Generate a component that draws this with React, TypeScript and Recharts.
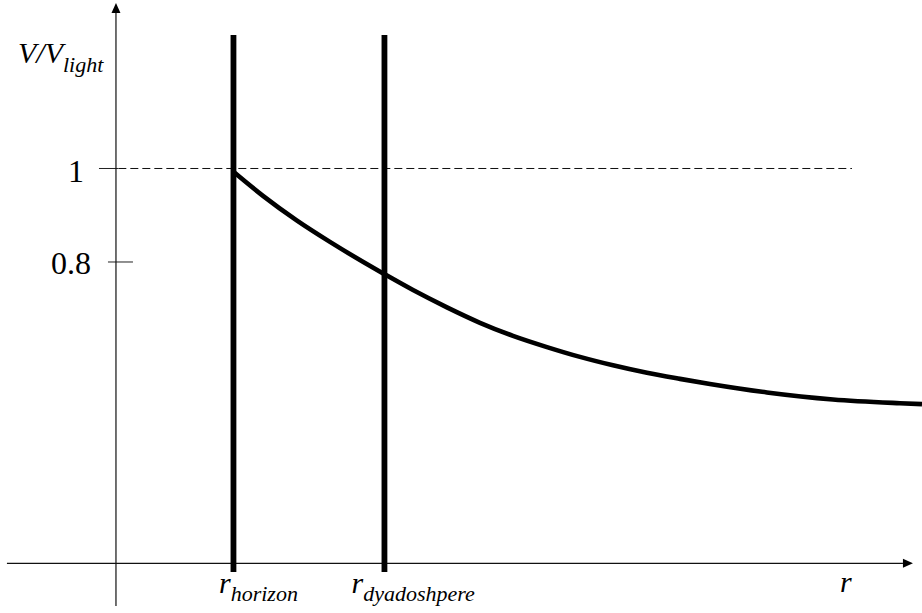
import React from 'react';
import { ComposedChart, Line, XAxis, YAxis, ReferenceLine } from 'recharts';

// Curve: normalized speed V/V_light vs radius r (r_horizon = 1)
const radius = [1.0, 1.254, 1.538, 1.821, 2.105, 2.285, 2.528, 2.817, 3.098, 3.379, 3.668, 3.949, 4.23, 4.519, 4.8, 5.055, 5.54, 6.102, 6.672, 6.86];
const speed = [0.993, 0.941, 0.889, 0.843, 0.8, 0.774, 0.74, 0.703, 0.67, 0.642, 0.618, 0.597, 0.579, 0.563, 0.55, 0.539, 0.521, 0.506, 0.498, 0.496];

// Special radii and their subscripts
const markRadii = [1, 2.285];
const markNames = ['horizon', 'dyadoshpere'];

// Y ticks
const yTickValues = [1, 0.8];
const yTickLabels = ['1', '0.8'];

// Axis extents (data units)
const X_DOMAIN: [number, number] = [-0.987, 6.86];
const Y_DOMAIN: [number, number] = [0.0492, 1.3604];
const AXIS_Y = 0.1555;
const X_AXIS_START = -0.928;
const X_AXIS_END = 6.783;
const Y_AXIS_BOTTOM = 0.064;
const Y_AXIS_TOP = 1.354;
const MARK_TOP = 1.2856;
const MARK_BOTTOM = 0.137;
const DASH_START = 0.02;
const DASH_END = 6.264;

const data = radius.map((r, i) => ({ r, v: speed[i] }));

const FONT = '"Liberation Serif", "Times New Roman", Tinos, serif';

const labelOffsets = [-14.5, -33];
const tickLabelDx = [-40, -45];
const tickLabelDy = [13.5, 12];
const tickSpan: [number, number][] = [[-17, 2], [-8, 17]];

const textStyle = (size: number, italic: boolean) => ({
  fontFamily: FONT,
  fontSize: size,
  fontStyle: italic ? 'italic' : 'normal',
});

const ArrowAxis = (p: any, kind: 'x' | 'y') => {
  const { x1, y1, x2, y2 } = p;
  const dx = x2 - x1;
  const dy = y2 - y1;
  const len = Math.sqrt(dx * dx + dy * dy) || 1;
  const ux = dx / len;
  const uy = dy / len;
  const L = 10;
  const W = 4.5;
  const bx = x2 - ux * L;
  const by = y2 - uy * L;
  const pts = `${x2},${y2} ${bx - uy * W},${by + ux * W} ${bx + uy * W},${by - ux * W}`;
  return (
    <g>
      <line x1={x1} y1={y1} x2={bx} y2={by} stroke="#111" strokeWidth={1.2} />
      <polygon points={pts} fill="#000" />
      {kind === 'y' ? (
        <text x={x1 - 98} y={y2 + 60} style={textStyle(30, true)} fill="#000">
          V/V
          <tspan style={{ fontSize: 22 }} dy={9}>light</tspan>
        </text>
      ) : (
        <text x={x2 - 73} y={y1 + 29} style={textStyle(30, true)} fill="#000">
          r
        </text>
      )}
    </g>
  );
};

const MarkLine = (p: any, i: number) => {
  const { x1, y1, x2, y2 } = p;
  const bottom = Math.max(y1, y2);
  return (
    <g>
      <line x1={x1} y1={y1} x2={x2} y2={y2} stroke="#000" strokeWidth={5.8} />
      <text x={x1 + labelOffsets[i]} y={bottom + 21} style={textStyle(30, true)} fill="#000">
        r
        <tspan style={{ fontSize: 22 }} dy={8}>{markNames[i]}</tspan>
      </text>
    </g>
  );
};

const TickMark = (p: any, i: number) => {
  const { x1, y1 } = p;
  return (
    <g>
      <line x1={x1 + tickSpan[i][0]} y1={y1} x2={x1 + tickSpan[i][1]} y2={y1} stroke="#222" strokeWidth={1} />
      <text x={x1 + tickLabelDx[i]} y={y1 + tickLabelDy[i]} textAnchor="middle" style={textStyle(32, false)} fill="#000">
        {yTickLabels[i]}
      </text>
    </g>
  );
};

export default function App() {
  return (
    <div style={{ position: 'absolute', left: 0, top: 0, background: '#fff' }}>
      <ComposedChart width={922} height={613} data={data} margin={{ top: 0, right: 0, bottom: 0, left: 0 }}>
        <XAxis type="number" dataKey="r" domain={X_DOMAIN} allowDataOverflow hide />
        <YAxis type="number" domain={Y_DOMAIN} allowDataOverflow hide />
        <ReferenceLine
          segment={[{ x: DASH_START, y: 1 }, { x: DASH_END, y: 1 }]}
          stroke="#111"
          strokeWidth={1}
          strokeDasharray="8 4"
          ifOverflow="visible"
        />
        {yTickValues.map((v, i) => (
          <ReferenceLine
            key={'t' + i}
            segment={[{ x: 0, y: v }, { x: 0.001, y: v }]}
            ifOverflow="visible"
            shape={(p: any) => TickMark(p, i)}
          />
        ))}
        <ReferenceLine
          segment={[{ x: X_AXIS_START, y: AXIS_Y }, { x: X_AXIS_END, y: AXIS_Y }]}
          ifOverflow="visible"
          shape={(p: any) => ArrowAxis(p, 'x')}
        />
        <ReferenceLine
          segment={[{ x: 0, y: Y_AXIS_BOTTOM }, { x: 0, y: Y_AXIS_TOP }]}
          ifOverflow="visible"
          shape={(p: any) => ArrowAxis(p, 'y')}
        />
        <Line
          type="monotone"
          dataKey="v"
          stroke="#000"
          strokeWidth={4.6}
          dot={false}
          activeDot={false}
          isAnimationActive={false}
        />
        {markRadii.map((r, i) => (
          <ReferenceLine
            key={'m' + i}
            segment={[{ x: r, y: MARK_TOP }, { x: r, y: MARK_BOTTOM }]}
            ifOverflow="visible"
            shape={(p: any) => MarkLine(p, i)}
          />
        ))}
      </ComposedChart>
    </div>
  );
}
